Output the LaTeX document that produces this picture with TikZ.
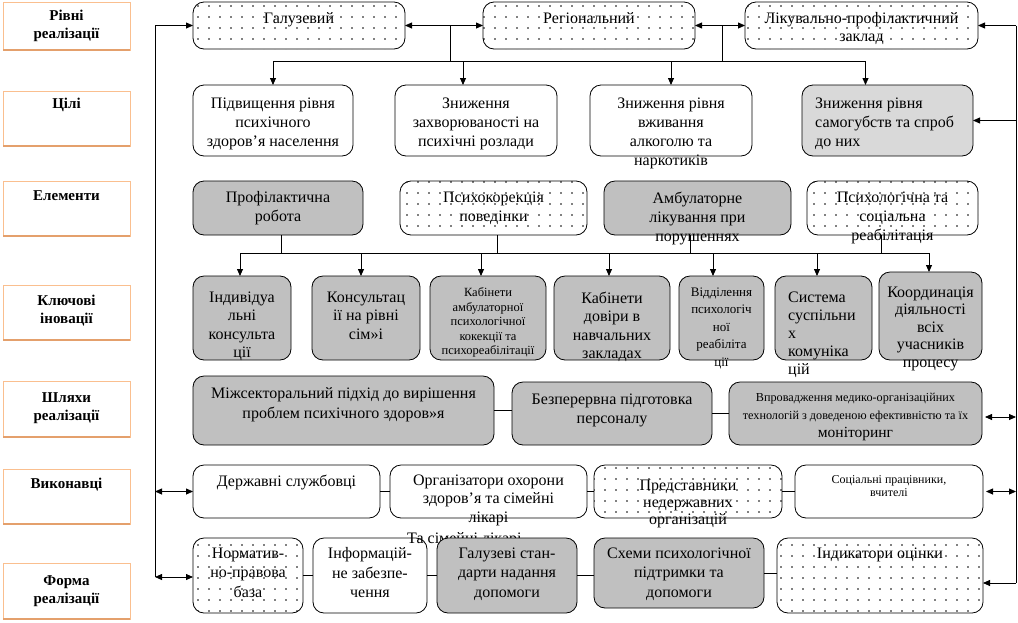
\documentclass[tikz,border=0pt]{standalone}
\usepackage{fontspec}
\setmainfont{Liberation Serif}
\usetikzlibrary{arrows.meta, positioning, patterns.meta}
\definecolor{boxgray}{RGB}{192,192,192}
\definecolor{palegray}{RGB}{217,217,217}
\definecolor{labline}{RGB}{250,191,143}
\definecolor{labshade}{RGB}{228,160,108}

\begin{document}
\begin{tikzpicture}[x=1pt, y=-1pt,
    base/.style={draw, line width=0.8pt, rounded corners=11pt, inner sep=0pt, outer sep=0pt},
    whitebox/.style={base, fill=white},
    graybox/.style={base, fill=boxgray},
    palebox/.style={base, fill=palegray},
    dotbox/.style={base, fill=white, postaction={pattern={Dots[distance=11pt, radius=0.85pt]}}},
    levelbox/.style={draw=labline, line width=0.6pt, fill=white, minimum width=127pt, inner sep=0pt, outer sep=0pt},
    leveltxt/.style={inner sep=0pt, align=center, font=\fontsize{15}{18}\selectfont\bfseries},
    txt/.style={inner sep=0pt, align=center, font=\fontsize{16}{19}\selectfont},
    smalltxt/.style={inner sep=0pt, align=center, font=\fontsize{12.5}{14.5}\selectfont},
    link/.style={line width=0.8pt},
    arr/.style={link, -{Triangle[length=7pt, width=6pt]}},
    darr/.style={link, {Triangle[length=7pt, width=6pt]}-{Triangle[length=7pt, width=6pt]}}
  ]
  \useasboundingbox (0,0) rectangle (1018,622);

  % Left column: names of the levels
  \foreach \nm/\yc/\h/\dy/\t in {rl/26/48/8/{Рівні\\реалізації}, cl/118.5/55/7/{Цілі},
      el/208.5/55/9/{Елементи}, kl/312.5/55/10/{Ключові\\іновації},
      sl/409/56/11/{Шляхи\\реалізації}, vl/496.5/55/9/{Виконавці},
      fl/591/56/12/{Форма\\реалізації}} {
    \node[levelbox, minimum height=\h pt] (\nm) at (66.5,\yc) {};
    \draw[labshade, line width=1.5pt] (\nm.south west) -- (\nm.south east);
    \node[leveltxt, below=\dy pt] (\nm-t) at (\nm.north) {\t};
  }

  % Levels of realisation
  \node[dotbox, minimum width=212, minimum height=47] (galuz) at (299,25.5) {};
  \node[txt, below=10.5pt] (galuz-t) at (galuz.north) {Галузевий};
  \node[dotbox, minimum width=212, minimum height=47] (region) at (589,25.5) {};
  \node[txt, below=10.5pt] (region-t) at (region.north) {Регіональний};
  \node[dotbox, minimum width=233, minimum height=47] (likuv) at (861.5,25.5) {};
  \node[txt, below=10.5pt, font=\fontsize{16}{18}\selectfont] (likuv-t) at (likuv.north)
    {Лікувально-профілактичний\\заклад};

  % Goals
  \node[whitebox, minimum width=160, minimum height=71] (goal1) at (273,120.5) {};
  \node[txt, below=12.5pt] (goal1-t) at (goal1.north) {Підвищення рівня\\психічного\\здоров’я населення};
  \node[whitebox, minimum width=162, minimum height=71] (goal2) at (476,120.5) {};
  \node[txt, below=12.5pt] (goal2-t) at (goal2.north) {Зниження\\захворюваності на\\психічні розлади};
  \node[whitebox, minimum width=162, minimum height=71] (goal3) at (671,120.5) {};
  \node[txt, below=12.5pt] (goal3-t) at (goal3.north) {Зниження рівня\\вживання\\алкоголю та\\наркотиків};
  \node[palebox, minimum width=171, minimum height=71] (goal4) at (887.5,120.5) {};
  \node[txt, align=left, anchor=north west] (goal4-t) at ([xshift=13pt, yshift=-12.5pt]goal4.north west)
    {Зниження рівня\\самогубств та спроб\\до них};

  % Elements
  \node[graybox, minimum width=170, minimum height=54] (elem1) at (278,208) {};
  \node[txt, below=10.5pt] (elem1-t) at (elem1.north) {Профілактична\\робота};
  \node[dotbox, minimum width=187, minimum height=54] (elem2) at (493.5,208) {};
  \node[txt, below=10.5pt] (elem2-t) at (elem2.north) {Психокорекція\\поведінки};
  \node[graybox, minimum width=187, minimum height=54] (elem3) at (697.5,208) {};
  \node[txt, below=10.5pt] (elem3-t) at (elem3.north) {Амбулаторне\\лікування при\\порушеннях};
  \node[dotbox, minimum width=171, minimum height=54] (elem4) at (892.5,208) {};
  \node[txt, below=10.5pt] (elem4-t) at (elem4.north) {Психологічна та\\соціальна\\реабілітація};

  % Key innovations
  \node[graybox, minimum width=98, minimum height=84] (inn1) at (242,318) {};
  \node[txt, below=15.5pt, font=\fontsize{16}{18.5}\selectfont] (inn1-t) at (inn1.north) {Індивідуа\\льні\\консульта\\ції};
  \node[graybox, minimum width=108, minimum height=84] (inn2) at (366,318) {};
  \node[txt, below=15.5pt, font=\fontsize{16}{18.5}\selectfont] (inn2-t) at (inn2.north) {Консультац\\ії на рівні\\сім»і};
  \node[graybox, minimum width=116, minimum height=84] (inn3) at (488,318) {};
  \node[smalltxt, below=11.5pt] (inn3-t) at (inn3.north) {Кабінети\\амбулаторної\\психологічної\\кокекції та\\психореабілітації};
  \node[graybox, minimum width=116, minimum height=84] (inn4) at (612,318) {};
  \node[txt, below=15.5pt, font=\fontsize{16}{18.5}\selectfont] (inn4-t) at (inn4.north) {Кабінети\\довіри в\\навчальних\\закладах};
  \node[graybox, minimum width=85, minimum height=84] (inn5) at (721.5,318) {};
  \node[txt, below=11.5pt, font=\fontsize{13}{17.5}\selectfont] (inn5-t) at (inn5.north) {Відділення\\психологіч\\ної\\реабіліта\\ції};
  \node[graybox, minimum width=97, minimum height=84] (inn6) at (823.5,318) {};
  \node[txt, align=left, anchor=north west, font=\fontsize{16}{18}\selectfont] (inn6-t)
    at ([xshift=13pt, yshift=-15.5pt]inn6.north west) {Система\\суспільни\\х\\комуніка\\цій};
  \node[graybox, minimum width=103, minimum height=88] (inn7) at (930.5,316) {};
  \node[txt, below=14.5pt, font=\fontsize{16}{17.5}\selectfont] (inn7-t) at (inn7.north) {Координація\\діяльності\\всіх\\учасників\\процесу};

  % Ways of realisation
  \node[graybox, minimum width=301, minimum height=69] (path1) at (343.5,410.5) {};
  \node[txt, below=11.5pt, font=\fontsize{16}{20}\selectfont] (path1-t) at (path1.north)
    {Міжсекторальний підхід до вирішення\\проблем психічного здоров»я};
  \node[graybox, minimum width=200, minimum height=63] (path2) at (612,413.5) {};
  \node[txt, below=11.5pt] (path2-t) at (path2.north) {Безперервна підготовка\\персоналу};
  \node[graybox, minimum width=253, minimum height=63] (path3) at (855.5,413.5) {};
  \node[smalltxt, below=10.5pt, font=\fontsize{12.2}{18}\selectfont] (path3-t) at (path3.north)
    {Впровадження медико-організаційних\\технологій з доведеною ефективністю та їх\\{\fontsize{15.5}{18}\selectfont моніторинг}};

  % Executors
  \node[whitebox, minimum width=187, minimum height=53] (exec1) at (286.5,491.5) {};
  \node[txt, below=9.5pt] (exec1-t) at (exec1.north) {Державні службовці};
  \node[whitebox, minimum width=197, minimum height=53] (exec2) at (488.5,491.5) {};
  \node[txt, below=9.5pt, font=\fontsize{16}{18.5}\selectfont] (exec2-t) at (exec2.north)
    {Організатори охорони\\здоров’я та сімейні\\лікарі};
  \node[dotbox, minimum width=188, minimum height=53] (exec3) at (688,491.5) {};
  \node[txt, below=14.5pt, font=\fontsize{16}{17}\selectfont] (exec3-t) at (exec3.north)
    {Представники\\недержавних\\організацій};
  \node[whitebox, minimum width=188, minimum height=53] (exec4) at (889,491.5) {};
  \node[smalltxt, below=10.5pt, font=\fontsize{12}{12.5}\selectfont] (exec4-t) at (exec4.north)
    {Соціальні працівники,\\вчителі};

  % Forms of realisation
  \node[dotbox, minimum width=110, minimum height=75] (form1) at (248,575.5) {};
  \node[txt, below=9.5pt, font=\fontsize{16}{19.5}\selectfont] (form1-t) at (form1.north) {Норматив-\\но-правова\\база};
  \node[whitebox, minimum width=114, minimum height=75] (form2) at (370,575.5) {};
  \node[txt, below=9.5pt, font=\fontsize{16}{19.5}\selectfont] (form2-t) at (form2.north) {Інформацій-\\не забезпе-\\чення};
  \node[txt, anchor=west] (exec2-x) at (407,539.5) {Та сімейні лікарі};
  \node[graybox, minimum width=140, minimum height=75] (form3) at (507,575.5) {};
  \node[txt, below=9.5pt, font=\fontsize{16}{19.5}\selectfont] (form3-t) at (form3.north) {Галузеві стан-\\дарти надання\\допомоги};
  \node[graybox, minimum width=170, minimum height=70] (form4) at (679,573) {};
  \node[txt, below=9.5pt, font=\fontsize{16}{19.5}\selectfont] (form4-t) at (form4.north) {Схеми психологічної\\підтримки та\\допомоги};
  \node[dotbox, minimum width=206, minimum height=75] (form5) at (880,575.5) {};
  \node[txt, below=9.5pt] (form5-t) at (form5.north) {Індикатори оцінки};

  % Levels -> goals
  \coordinate (j1) at (450,25.5);
  \coordinate (j2) at (722,25.5);
  \coordinate (bus1) at (450,61);
  \draw[arr] (j1) -- (galuz.east);
  \draw[arr] (j1) -- (region.west);
  \draw[arr] (j2) -- (region.east);
  \draw[arr] (j2) -- (likuv.west);
  \draw[link] (j1) -- (j1 |- bus1);
  \draw[link] (j2) -- (j2 |- bus1);
  \draw[link] (goal1.north |- bus1) -- ([xshift=-22pt]goal4.north |- bus1);
  \foreach \g/\dx in {goal1/0, goal2/-13, goal3/0, goal4/-22}
    \draw[arr] ([xshift=\dx pt]\g.north |- bus1) -- ([xshift=\dx pt]\g.north);

  % Elements -> key innovations
  \coordinate (bus2) at (240,253);
  \foreach \e/\dx in {elem1/3, elem2/3.5, elem3/-7.5, elem4/-11.5}
    \draw[link] ([xshift=\dx pt]\e.south) -- ([xshift=\dx pt]\e.south |- bus2);
  \draw[link] (bus2) -- ([xshift=-1.5pt]inn7.north |- bus2);
  \foreach \i/\dx in {inn1/-2, inn2/-5, inn3/-7, inn4/-3, inn5/-8.5, inn6/-6.5, inn7/-1.5}
    \draw[arr] ([xshift=\dx pt]\i.north |- bus2) -- ([xshift=\dx pt]\i.north);

  % Links inside the lower rows
  \draw[link] (path1.east) -- (path1.east -| path2.west);
  \draw[link] (path2.east) -- (path3.west);
  \draw[link] (exec1.east) -- (exec2.west);
  \draw[link] (exec2.east) -- (exec3.west);
  \draw[link] (exec3.east) -- (exec4.west);
  \draw[link] (form1.east) -- (form2.west);
  \draw[link] (form2.east) -- (form3.west);
  \draw[link] (form3.east) -- (form3.east -| form4.west);
  \draw[link] (form4.east) -- (form4.east -| form5.west);

  % Left frame line
  \coordinate (lt) at (155,25.5);
  \coordinate (lb) at (155,577);
  \draw[link] (lt) -- (lb);
  \draw[arr] (lt) -- (galuz.west);
  \draw[darr] (lt |- exec1.west) -- (exec1.west);
  \draw[darr] (lb) -- (lb -| form1.west);

  % Right frame line
  \coordinate (rt) at (1016,25.5);
  \coordinate (rb) at (1016,583);
  \draw[link] (rt) -- (rb);
  \draw[arr] (rt) -- (likuv.east);
  \draw[arr] (rt |- goal4.east) -- (goal4.east);
  \draw[darr] ([xshift=3pt, yshift=-3.5pt]path3.east) -- ([yshift=-3.5pt]path3.east -| rt);
  \draw[darr] ([xshift=3pt]exec4.east) -- (exec4.east -| rt);
  \draw[arr] (rb) -- (rb -| form5.east);
\end{tikzpicture}
\end{document}
